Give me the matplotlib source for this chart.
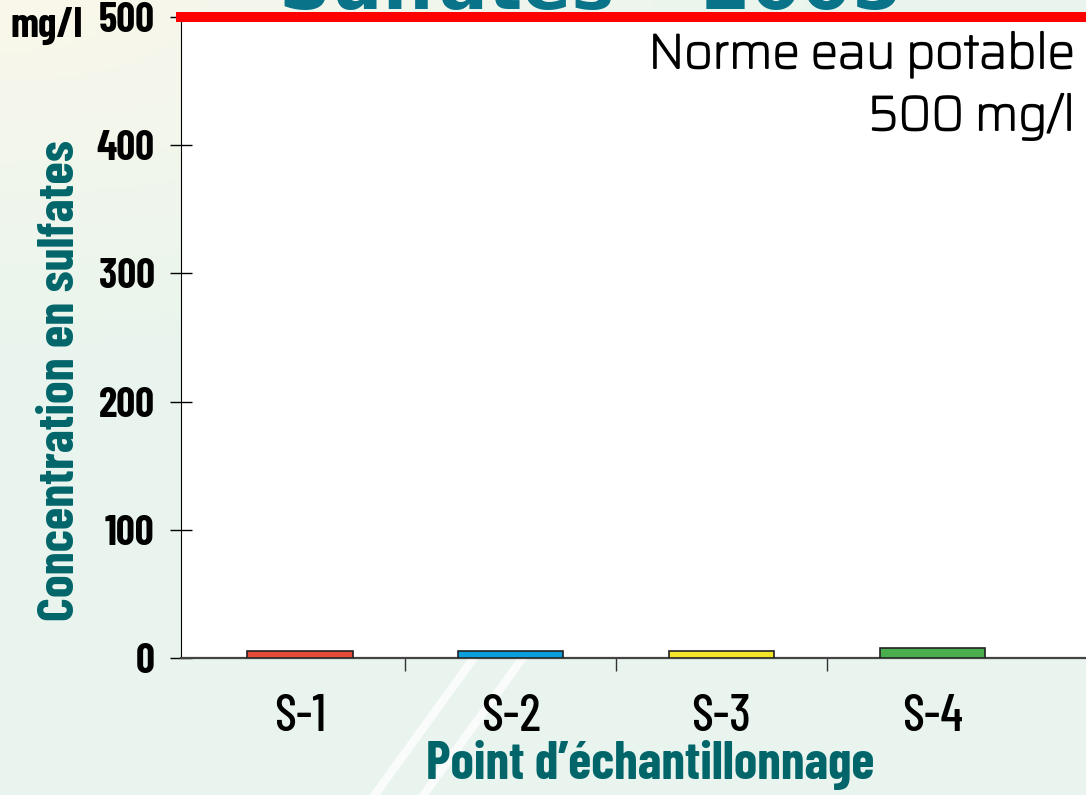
import numpy as np
import matplotlib
matplotlib.use("Agg")
import matplotlib.pyplot as plt
import matplotlib.patheffects as pe

points = ["S-1", "S-2", "S-3", "S-4"]
sulfates = [5.7, 5.7, 5.7, 7.8]
bar_colors = ["#e64a3b", "#0a9fdc", "#f4e42a", "#4aae4f"]
norme = 500
yticks = [0, 100, 200, 300, 400, 500]

TEAL = "#01656a"
COND = "Barlow Condensed"

fig = plt.figure(figsize=(10.86, 7.95), dpi=100)

# background: pale mint with a cream corner top-left
bg = fig.add_axes([0, 0, 1, 1], zorder=-10)
yy, xx = np.mgrid[0:1:200j, 0:1:200j]
w = np.clip(1.0 - np.hypot(xx * 1.2, yy * 2.2), 0, 1)
cream = np.array([0.98, 0.97, 0.92])
mint = np.array([0.91, 0.96, 0.93])
img = mint[None, None, :] * (1 - w[..., None]) + cream[None, None, :] * w[..., None]
bg.imshow(img, extent=[0, 1, 0, 1], aspect="auto", origin="upper")
for x0 in (0.345, 0.39):
    bg.plot([x0, x0 + 0.09], [0.0, 0.17], color="white", lw=6, alpha=0.8)
bg.set_xlim(0, 1)
bg.set_ylim(0, 1)
bg.axis("off")

ax = fig.add_axes([0.1667, 0.1723, 0.8333, 0.8063])
ax.set_facecolor("white")
x = np.arange(len(points))
ax.bar(x, sulfates, width=0.5, color=bar_colors, edgecolor="#222222", linewidth=1.2, zorder=3)
ax.axhline(norme, color="#ff0000", lw=7.2, clip_on=False, zorder=4)

ax.set_xlim(-0.565, 3.73)
ax.set_ylim(0, 500)
ax.set_yticks(yticks)
ax.set_yticklabels([str(v) for v in yticks], fontsize=30, fontweight="bold", family=COND)
ax.set_xticks(x)
ax.set_xticklabels(points, fontsize=37, fontweight="medium", family=COND)
ax.set_xticks(x[:-1] + 0.5, minor=True)
ax.tick_params(axis="x", which="major", length=0, pad=26)
ax.tick_params(axis="x", which="minor", length=9, direction="out", width=1, color="#333333")
ax.tick_params(axis="y", length=16, direction="inout", width=1, pad=11)

for s in ("top", "right"):
    ax.spines[s].set_visible(False)
ax.spines["left"].set_color("black")
ax.spines["bottom"].set_color("#444444")
ax.spines["bottom"].set_linewidth(1.6)

ax.set_xlabel("Point d\u2019échantillonnage", fontsize=38, fontweight="bold", color=TEAL,
              family=COND)
ax.xaxis.set_label_coords(0.5185, -0.128, transform=ax.transAxes)
ax.set_ylabel("Concentration en sulfates", fontsize=37, fontweight="bold", color=TEAL,
              family=COND)
ax.yaxis.set_label_coords(-0.108, 0.433, transform=ax.transAxes)

thick = [pe.withStroke(linewidth=1.4, foreground="black")]
fig.text(1075 / 1086, 1 - 68 / 795, "Norme eau potable", ha="right", va="baseline",
         fontsize=35, family="Saira", path_effects=thick)
fig.text(1075 / 1086, 1 - 130 / 795, "500 mg/l", ha="right", va="baseline",
         fontsize=35, family="Saira", path_effects=thick)

fig.text(10 / 1086, 1 - 26 / 795, "mg/l", fontsize=30, fontweight="bold", family=COND,
         ha="left", va="center")
fig.text(590 / 1086, 1 - 9 / 795, "Sulfates \u2013 2005", fontsize=52, fontweight="bold",
         color="#087389", ha="center", va="baseline", family="DejaVu Sans")

fig.savefig("out.png", dpi=100)
